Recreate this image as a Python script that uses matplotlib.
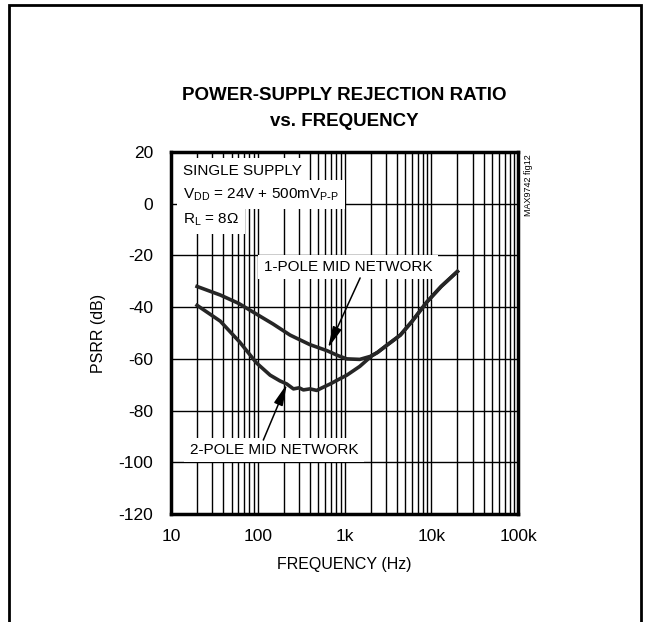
import matplotlib.pyplot as plt
from matplotlib.patches import Rectangle
from matplotlib.ticker import FixedLocator, LogLocator, NullFormatter

# PSRR curves (Hz, dB)
freq_1pole = [20, 37, 60, 97, 150, 236, 400, 625, 850, 1064, 1500, 2000, 2400,
              3000, 4400, 6000, 8900, 13000, 20000]
psrr_1pole = [-32, -35.3, -38.5, -42.7, -46.5, -50.8, -54.5, -56.8, -58.8, -60,
              -60.2, -59, -57.5, -55, -50.8, -45.5, -38, -32, -26.2]

freq_2pole = [20, 37, 62, 97, 139, 180, 216, 258, 300, 336, 400, 479, 550, 684,
              850, 1064, 1500, 2065, 2400, 3000, 4400, 6000, 8900, 13000, 20000]
psrr_2pole = [-39.3, -45.4, -53.5, -61.6, -66.3, -68.5, -69.7, -71.6, -71.2,
              -72.0, -71.6, -72.2, -71.2, -69.7, -68, -66.3, -62.9, -58.8, -57.5,
              -55, -50.8, -45.5, -38, -32, -26.2]

x_ticks = [10, 100, 1000, 10000, 100000]
x_ticklabels = ["10", "100", "1k", "10k", "100k"]
y_ticks = [20, 0, -20, -40, -60, -80, -100, -120]

plt.rcParams['font.family'] = ['Liberation Sans', 'DejaVu Sans']
plt.rcParams['axes.unicode_minus'] = False

fig = plt.figure(figsize=(6.5, 6.22), dpi=100)
ax = fig.add_axes([0.263, 0.1736, 0.534, 0.582])

# outer frame (open at the bottom)
fig.add_artist(Rectangle((0.014, -0.2), 0.972, 1.192, transform=fig.transFigure,
                         fill=False, ec='black', lw=2, clip_on=False))

ax.plot(freq_1pole, psrr_1pole, color='#262626', lw=2.6, zorder=3)
ax.plot(freq_2pole, psrr_2pole, color='#262626', lw=2.6, zorder=3)

ax.set_xscale('log')
ax.set_xlim(10, 100000)
ax.set_ylim(-120, 20)
ax.xaxis.set_major_locator(FixedLocator(x_ticks))
ax.set_xticklabels(x_ticklabels)
ax.xaxis.set_minor_locator(LogLocator(base=10, subs=range(2, 10)))
ax.xaxis.set_minor_formatter(NullFormatter())
ax.set_yticks(y_ticks)
ax.grid(True, which='both', axis='x', color='black', lw=1)
ax.grid(True, which='major', axis='y', color='black', lw=1)
ax.tick_params(which='both', length=0, labelsize=12.5)
ax.tick_params(axis='y', pad=13)
ax.tick_params(axis='x', pad=11)
for s in ax.spines.values():
    s.set_linewidth(2.5)

ax.set_xlabel("FREQUENCY (Hz)", fontsize=11.5, labelpad=9)
ax.set_ylabel("PSRR (dB)", fontsize=11.5, labelpad=9)

fig.text(0.529, 0.847, "POWER-SUPPLY REJECTION RATIO", ha='center', va='center',
         fontsize=13.5, fontweight='bold')
fig.text(0.529, 0.804, "vs. FREQUENCY", ha='center', va='center',
         fontsize=13.5, fontweight='bold')

box = dict(boxstyle='square,pad=0.4', fc='white', ec='none')
ytr = ax.get_yaxis_transform()
ax.text(0.035, 12.8, "SINGLE SUPPLY", transform=ytr,
        fontsize=11, va='center', bbox=box, zorder=4)
ax.text(0.035, 3.4, r"V$_{\mathregular{DD}}$ = 24V + 500mV$_{\mathregular{P\text{-}P}}$",
        transform=ytr, fontsize=11, va='center', bbox=box, zorder=4)
ax.text(0.035, -6.2, r"R$_{\mathregular{L}}$ = 8Ω", transform=ytr,
        fontsize=11, va='center', bbox=box, zorder=4)

label_box = dict(boxstyle='square,pad=0.35', fc='white', ec='none')
ax.text(1096, -24.5, "1-POLE MID NETWORK", ha='center', va='center', fontsize=11,
        bbox=label_box, zorder=4)
ax.text(154, -95.2, "2-POLE MID NETWORK", ha='center', va='center', fontsize=11,
        bbox=label_box, zorder=4)

arrow = dict(arrowstyle='-|>,head_length=1.3,head_width=0.28', color='black', lw=1.1,
             shrinkA=0, shrinkB=0)
ax.annotate("", xy=(646, -55.8), xytext=(1514, -28.7), arrowprops=arrow, zorder=5)
ax.annotate("", xy=(217, -69.7), xytext=(116, -91.4), arrowprops=arrow, zorder=5)

fig.text(0.813, 0.752, "MAX9742 fig12", rotation=90, ha='center', va='top', fontsize=6.5)

fig.savefig("out.png", dpi=100)
